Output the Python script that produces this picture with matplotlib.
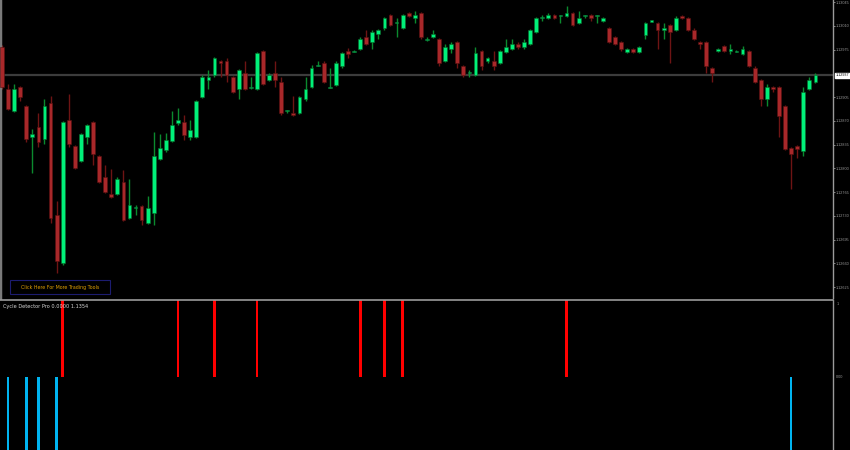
import numpy as np
import matplotlib.pyplot as plt
from matplotlib.patches import Rectangle
import matplotlib.transforms as mtransforms

# OHLC prices, one entry per bar (oldest first)
opens = [1.12979, 1.12917, 1.12884, 1.12920, 1.12892, 1.12846, 1.12861, 1.12843, 1.12896, 1.12731,
         1.12660, 1.12871, 1.12833, 1.12811, 1.12846, 1.12868, 1.12818, 1.12787, 1.12762, 1.12762,
         1.12780, 1.12727, 1.12741, 1.12744, 1.12719, 1.12734, 1.12814, 1.12827, 1.12840, 1.12867,
         1.12868, 1.12846, 1.12846, 1.12905, 1.12930, 1.12937, 1.12958, 1.12958, 1.12935, 1.12917,
         1.12940, 1.12918, 1.12917, 1.12973, 1.12930, 1.12940, 1.12927, 1.12884, 1.12881, 1.12881,
         1.12902, 1.12920, 1.12951, 1.12955, 1.12918, 1.12923, 1.12951, 1.12973, 1.12971, 1.12976,
         1.12993, 1.12986, 1.12998, 1.13007, 1.13026, 1.13014, 1.13007, 1.13029, 1.13021, 1.13029,
         1.12989, 1.12993, 1.12991, 1.12958, 1.12976, 1.12986, 1.12951, 1.12940, 1.12937, 1.12973,
         1.12958, 1.12958, 1.12955, 1.12971, 1.12976, 1.12983, 1.12979, 1.12983, 1.13001, 1.13021,
         1.13021, 1.13026, 1.13024, 1.13024, 1.13029, 1.13014, 1.13024, 1.13026, 1.13024, 1.13017,
         1.13007, 1.12993, 1.12986, 1.12971, 1.12976, 1.12971, 1.12996, 1.13016, 1.13014, 1.13004,
         1.13011, 1.13004, 1.13024, 1.13021, 1.13004, 1.12986, 1.12986, 1.12948, 1.12973, 1.12980,
         1.12973, 1.12971, 1.12968, 1.12973, 1.12948, 1.12930, 1.12902, 1.12920, 1.12920, 1.12892,
         1.12830, 1.12833, 1.12825, 1.12917, 1.12927]
highs = [1.12982, 1.12924, 1.12924, 1.12921, 1.12893, 1.12858, 1.12881, 1.12902, 1.12907, 1.12752,
         1.12870, 1.12909, 1.12834, 1.12852, 1.12865, 1.12870, 1.12820, 1.12805, 1.12799, 1.12787,
         1.12797, 1.12784, 1.12746, 1.12746, 1.12759, 1.12853, 1.12851, 1.12852, 1.12884, 1.12889,
         1.12879, 1.12871, 1.12901, 1.12937, 1.12945, 1.12964, 1.12960, 1.12963, 1.12936, 1.12946,
         1.12958, 1.12935, 1.12971, 1.12974, 1.12940, 1.12958, 1.12935, 1.12886, 1.12907, 1.12907,
         1.12935, 1.12952, 1.12958, 1.12958, 1.12948, 1.12958, 1.12971, 1.12977, 1.12974, 1.12993,
         1.13004, 1.13004, 1.13005, 1.13023, 1.13027, 1.13021, 1.13027, 1.13030, 1.13032, 1.13030,
         1.12993, 1.13004, 1.12992, 1.12983, 1.12986, 1.12988, 1.12952, 1.12945, 1.12979, 1.12974,
         1.12964, 1.12973, 1.12974, 1.12991, 1.12991, 1.12986, 1.12991, 1.13005, 1.13023, 1.13026,
         1.13029, 1.13027, 1.13026, 1.13039, 1.13030, 1.13032, 1.13026, 1.13027, 1.13026, 1.13023,
         1.13008, 1.12995, 1.12988, 1.12977, 1.12977, 1.12980, 1.13016, 1.13019, 1.13016, 1.13014,
         1.13013, 1.13024, 1.13026, 1.13023, 1.13007, 1.12988, 1.12988, 1.12949, 1.12977, 1.12982,
         1.12983, 1.12974, 1.12980, 1.12974, 1.12951, 1.12932, 1.12924, 1.12921, 1.12921, 1.12893,
         1.12831, 1.12834, 1.12920, 1.12935, 1.12940]
lows = [1.12917, 1.12886, 1.12883, 1.12899, 1.12839, 1.12793, 1.12831, 1.12836, 1.12719, 1.12646,
        1.12657, 1.12831, 1.12799, 1.12809, 1.12836, 1.12805, 1.12778, 1.12764, 1.12756, 1.12761,
        1.12722, 1.12725, 1.12731, 1.12716, 1.12718, 1.12716, 1.12812, 1.12824, 1.12839, 1.12864,
        1.12842, 1.12842, 1.12845, 1.12904, 1.12917, 1.12935, 1.12935, 1.12927, 1.12911, 1.12902,
        1.12915, 1.12917, 1.12915, 1.12923, 1.12929, 1.12920, 1.12879, 1.12881, 1.12877, 1.12880,
        1.12899, 1.12918, 1.12951, 1.12926, 1.12918, 1.12921, 1.12948, 1.12963, 1.12971, 1.12974,
        1.12982, 1.12976, 1.12991, 1.13004, 1.13010, 1.12993, 1.13005, 1.13023, 1.13014, 1.12991,
        1.12988, 1.12992, 1.12951, 1.12957, 1.12970, 1.12948, 1.12935, 1.12935, 1.12936, 1.12945,
        1.12955, 1.12945, 1.12954, 1.12970, 1.12974, 1.12976, 1.12976, 1.12982, 1.12999, 1.13017,
        1.13020, 1.13020, 1.13014, 1.13023, 1.13010, 1.13013, 1.13021, 1.13017, 1.13014, 1.13016,
        1.12985, 1.12982, 1.12973, 1.12970, 1.12970, 1.12970, 1.12991, 1.13016, 1.12976, 1.12991,
        1.12955, 1.13002, 1.13020, 1.13002, 1.12989, 1.12976, 1.12940, 1.12927, 1.12971, 1.12971,
        1.12968, 1.12971, 1.12967, 1.12949, 1.12926, 1.12892, 1.12892, 1.12912, 1.12846, 1.12827,
        1.12769, 1.12815, 1.12818, 1.12915, 1.12926]
closes = [1.12920, 1.12887, 1.12917, 1.12905, 1.12843, 1.12851, 1.12839, 1.12892, 1.12727, 1.12663,
          1.12868, 1.12836, 1.12800, 1.12851, 1.12864, 1.12821, 1.12780, 1.12765, 1.12758, 1.12784,
          1.12724, 1.12746, 1.12742, 1.12724, 1.12741, 1.12818, 1.12830, 1.12842, 1.12864, 1.12871,
          1.12849, 1.12856, 1.12899, 1.12935, 1.12935, 1.12963, 1.12955, 1.12937, 1.12912, 1.12945,
          1.12917, 1.12920, 1.12970, 1.12924, 1.12937, 1.12930, 1.12881, 1.12886, 1.12879, 1.12905,
          1.12917, 1.12948, 1.12952, 1.12927, 1.12920, 1.12955, 1.12970, 1.12968, 1.12973, 1.12991,
          1.12983, 1.13001, 1.13004, 1.13021, 1.13011, 1.13016, 1.13026, 1.13024, 1.13026, 1.12993,
          1.12991, 1.12998, 1.12955, 1.12979, 1.12983, 1.12955, 1.12937, 1.12942, 1.12970, 1.12951,
          1.12963, 1.12951, 1.12973, 1.12979, 1.12983, 1.12979, 1.12986, 1.13004, 1.13021, 1.13023,
          1.13026, 1.13021, 1.13026, 1.13029, 1.13011, 1.13021, 1.13026, 1.13021, 1.13026, 1.13021,
          1.12986, 1.12983, 1.12976, 1.12976, 1.12971, 1.12979, 1.13014, 1.13017, 1.13004, 1.13007,
          1.13001, 1.13021, 1.13021, 1.13004, 1.12991, 1.12983, 1.12951, 1.12940, 1.12976, 1.12973,
          1.12976, 1.12973, 1.12976, 1.12951, 1.12927, 1.12902, 1.12920, 1.12917, 1.12877, 1.12828,
          1.12821, 1.12828, 1.12912, 1.12930, 1.12937]

# price scale labels on the right
price_ticks = [1.13045, 1.13010, 1.12975, 1.12905, 1.12870, 1.12835, 1.12800,
               1.12765, 1.12730, 1.12695, 1.12660, 1.12625]

# Cycle Detector Pro signals (bar index)
cycle_top_bars = [10, 29, 35, 42, 59, 63, 66, 93]
cycle_bottom_bars = [1, 4, 6, 9, 130]

o = np.array(opens)
h = np.array(highs)
l = np.array(lows)
c = np.array(closes)
x = np.arange(len(o))
up = c >= o

bull_body, bull_wick = '#00f07a', '#0b8a2e'
bear_body, bear_wick = '#a8282a', '#6e1414'
axis_grey = '#9a9a9a'
label_font = 'Liberation Sans'
label_size = 2.7

W, H = 850, 450
fig = plt.figure(figsize=(8.5, 4.5), dpi=100, facecolor='black')
ax = fig.add_axes([0, 152 / H, 833 / W, 298 / H], facecolor='black')
ax2 = fig.add_axes([0, 0, 833 / W, 150 / H], facecolor='black')

xmin, xmax = -0.33, 136.9
ytop = 1.13048
ybot = ytop - 298 * 0.0000147368

# bid line
ax.axhline(c[-1], color='#3c3c3c', lw=1.6, zorder=1)

# wicks
ax.vlines(x[up], l[up], h[up], color=bull_wick, lw=1.0, zorder=2)
ax.vlines(x[~up], l[~up], h[~up], color=bear_wick, lw=1.0, zorder=2)

# bodies (dojis get a 1px body)
min_h = 0.000018
bot = np.minimum(o, c)
height = np.maximum(np.abs(c - o), min_h)
ax.bar(x[up], height[up], bottom=bot[up], width=0.62, color=bull_body,
       edgecolor='#0a6a2a', linewidth=0.4, zorder=3)
ax.bar(x[~up], height[~up], bottom=bot[~up], width=0.62, color=bear_body,
       edgecolor='#5a1010', linewidth=0.4, zorder=3)

ax.set_xlim(xmin, xmax)
ax.set_ylim(ybot, ytop)
ax.set_xticks([])
ax.yaxis.tick_right()
ax.set_yticks(price_ticks)
ax.set_yticklabels(['%.5f' % p for p in price_ticks], fontfamily=label_font)
ax.tick_params(axis='y', colors=axis_grey, labelsize=label_size, length=1.2, width=0.6, pad=0.4)
for s in ['top', 'bottom']:
    ax.spines[s].set_visible(False)
ax.spines['right'].set_color(axis_grey)
ax.spines['right'].set_linewidth(1.0)
ax.spines['left'].set_color('#7a7a7a')
ax.spines['left'].set_linewidth(2.5)

# current price tag
trans = mtransforms.blended_transform_factory(ax.transAxes, ax.transData)
ax.text(1.003, c[-1], '%.5f' % c[-1], transform=trans, fontsize=label_size,
        fontfamily=label_font, color='black', va='center', ha='left', clip_on=False,
        bbox=dict(boxstyle='square,pad=0.2', fc='white', ec='white'))

# "Click Here" box
ax.add_patch(Rectangle((10 / 833, (298 - 294) / 298), 100 / 833, 14 / 298,
                       transform=ax.transAxes, fill=False, ec='#1c1c70', lw=0.8))
ax.text(60 / 833, (298 - 287) / 298, 'Click Here For More Trading Tools',
        transform=ax.transAxes, fontsize=3.4, color='#e0a000', ha='center', va='center')

# indicator subwindow
ax2.bar(cycle_top_bars, [1] * len(cycle_top_bars), width=0.45, color='#ff0000')
ax2.bar(cycle_bottom_bars, [-1] * len(cycle_bottom_bars), width=0.45, color='#00b4f0')
ax2.set_xlim(xmin, xmax)
ax2.set_ylim(-73 / 78, 1.0)
ax2.set_xticks([])
ax2.set_yticks([])
for s in ['bottom', 'left']:
    ax2.spines[s].set_visible(False)
ax2.spines['top'].set_color(axis_grey)
ax2.spines['top'].set_linewidth(1.2)
ax2.spines['right'].set_color(axis_grey)
ax2.spines['right'].set_linewidth(1.0)
trans2 = mtransforms.blended_transform_factory(ax2.transAxes, ax2.transData)
ax2.text(1.004, 0.985, '1', transform=ax2.transAxes, fontsize=label_size,
         fontfamily=label_font, color=axis_grey, va='top', ha='left', clip_on=False)
ax2.text(1.004, 0.0, '0.00', transform=trans2, fontsize=label_size,
         fontfamily=label_font, color=axis_grey, va='center', ha='left', clip_on=False)
ax2.text(0.004, 0.975, 'Cycle Detector Pro 0.0000 1.1354', transform=ax2.transAxes,
         fontsize=3.6, color='#d8d8d8', va='top', ha='left')

fig.savefig('out.png', dpi=100, facecolor='black')
